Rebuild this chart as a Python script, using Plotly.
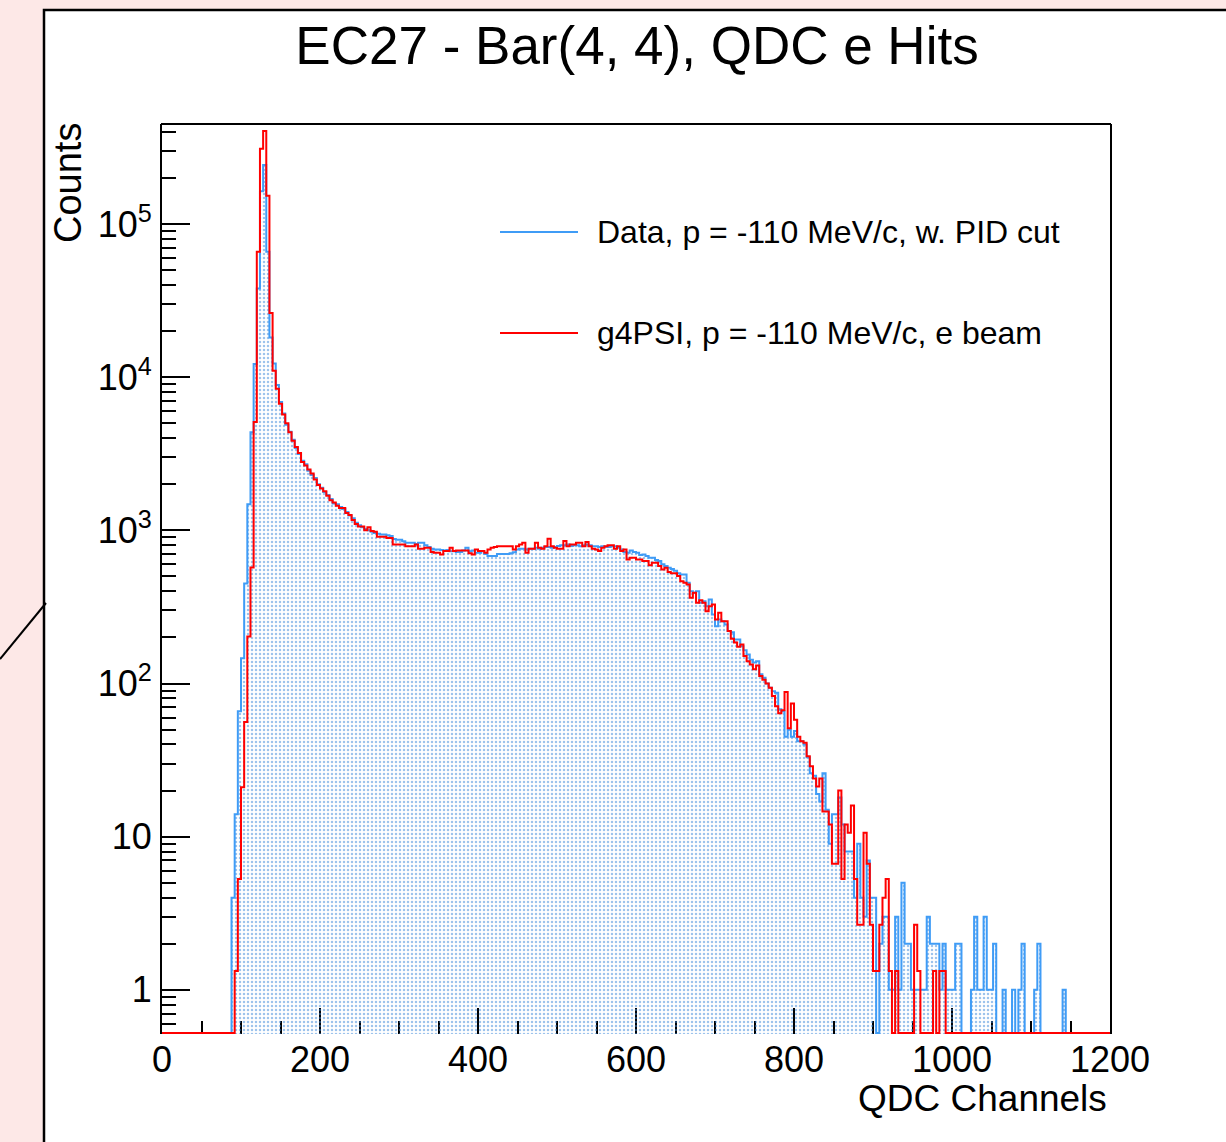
import numpy as np
import plotly.graph_objects as go

# ---------------- data (4-channel bins, QDC channels) ----------------
BIN_WIDTH = 4
N_BINS = 300

data_first_ch = 88
data_counts = [
    4, 14, 66, 146, 450, 1480, 4370, 12200, 38000, 164000, 243000, 66000, 18200,
    12300, 8900, 6900, 5800, 4900, 4400, 3900, 3450, 3150, 2850, 2700, 2450, 2300,
    2200, 2000, 1900, 1780, 1700, 1600, 1500, 1480, 1420, 1380, 1320, 1250, 1200,
    1120, 1080, 1050, 1020, 1000, 980, 960, 950, 940, 940, 930, 920, 880, 870,
    870, 850, 830, 830, 830, 815, 830, 830, 800, 780, 760, 750, 750, 745, 740, 745,
    730, 730, 722, 722, 740, 770, 730, 740, 715, 715, 730, 700, 680, 680, 680, 700,
    700, 700, 700, 710, 720, 751, 760, 760, 751, 760, 760, 770, 760, 770, 780, 780,
    770, 780, 790, 800, 800, 809, 790, 800, 800, 789, 800, 809, 800, 789, 789, 780,
    789, 780, 780, 789, 789, 770, 751, 722, 715, 740, 722, 715, 690, 697, 680, 663,
    663, 640, 630, 600, 585, 570, 560, 545, 524,
    516, 516, 455, 401, 392, 401, 337, 345, 320, 354, 282, 237, 262, 255, 243, 220,
    216, 194, 194, 175, 165, 155, 143, 137, 140, 115, 109, 100, 94, 89, 87, 68, 66,
    45, 50, 45, 49, 42, 42, 40, 33, 26, 25, 19, 17, 26, 15, 9, 14, 14, 18, 12, 8, 8,
    8, 4, 9, 4, 3, 7, 4, 4, 0, 2, 3, 3, 1, 1, 3, 1, 5, 2, 2, 1, 1, 1, 1, 1, 3, 2, 2,
    2, 1, 2, 1, 1, 1, 2, 2, 0, 0, 0, 1, 3, 1, 1, 3, 1, 1, 2, 0, 0, 1, 0, 0, 1, 0, 1,
    2, 0, 0, 0, 1, 2, 0, 0, 0, 0, 0, 0, 0, 1,
]

mc_first_ch = 92
mc_counts = [
    1.33, 5.3, 21, 56, 203, 573, 5100, 66000, 310000, 405000, 153000, 26300,
    11000, 8400, 6700, 5700, 5000, 4370, 3840, 3500, 3200, 2800, 2650, 2500, 2350,
    2150, 1980, 1880, 1800, 1680, 1570, 1520, 1450, 1400, 1400, 1300, 1260, 1170,
    1100, 1060, 1060, 1000, 1050, 990, 980, 910, 910, 910, 890, 890, 810, 810,
    809, 809, 789, 789, 789, 809, 759, 759, 770, 770, 722, 715, 715, 697, 732, 732,
    770, 732, 740, 740, 740, 740, 708, 697, 751, 732, 732, 715, 751, 770, 779, 789,
    789, 789, 789, 789, 751, 789, 809, 830, 715, 759, 759, 830, 770, 759, 789, 883,
    789, 770, 759, 759, 851, 789, 809, 809, 830, 830, 789, 840, 789, 760, 751, 732,
    770, 789, 800, 800, 759, 789, 732, 751, 646, 663, 663, 646, 646, 630, 630, 591,
    615, 615, 585, 556, 570, 534, 524, 524, 503,
    466, 455, 443, 363, 392, 337, 350, 337, 297, 320, 328, 262, 290, 255, 255, 220,
    196, 185, 174, 180, 151, 140, 133, 124, 131, 112, 106, 100, 94, 83, 71, 64, 67,
    88, 51, 74, 58, 45, 42, 41, 33.5, 28.8, 24, 21.3, 24, 14.6, 14.6, 12, 6.65, 6.65,
    20, 5.3, 12, 10.6, 16, 5.3, 2.66, 2.66, 10.6, 6.65, 2.66, 1.33, 1.33, 2.66, 4,
    5.3, 1.33, 0, 1.33, 0, 0, 0, 0, 0, 2.66, 1.33, 0, 0, 0, 0, 1.33, 0, 1.33, 1.33,
]

data_label = "Data, p = -110 MeV/c, w. PID cut"
mc_label = "g4PSI, p = -110 MeV/c, e beam"
title_text = "EC27 - Bar(4, 4), QDC e Hits"
x_title = "QDC Channels"
y_title = "Counts"

x_major = [0, 200, 400, 600, 800, 1000, 1200]
y_major = [1, 10, 100, 1e3, 1e4, 1e5]
y_major_text = ["1", "10", "10<sup>2</sup>", "10<sup>3</sup>", "10<sup>4</sup>", "10<sup>5</sup>"]

# ---------------- styling ----------------
BLUE = "#3f9cf6"
RED = "#ff0000"
FONT = "Liberation Sans, Arial, Helvetica, sans-serif"
W, H = 1226, 1142
L, R, T, B = 162, 116, 124, 108
Y_LO, Y_HI = 0.515, 4.5e5
PX_PER_DECADE = (H - T - B) / (np.log10(Y_HI) - np.log10(Y_LO))
# empty bins are drawn along the lower frame edge (as ROOT does)
Y_FLOOR = 10 ** (np.log10(Y_LO) + 1.0 / PX_PER_DECADE)


def full_hist(first_ch, counts):
    arr = np.zeros(N_BINS)
    i0 = first_ch // BIN_WIDTH
    arr[i0:i0 + len(counts)] = counts
    return arr


edges = np.arange(N_BINS + 1) * BIN_WIDTH
data_h = full_hist(data_first_ch, data_counts)
mc_h = full_hist(mc_first_ch, mc_counts)


def step_y(h):
    y = np.where(h > 0, h, Y_FLOOR)
    return np.append(y, y[-1])


fig = go.Figure()
fig.add_trace(go.Scatter(
    x=edges, y=step_y(data_h), mode="lines", line_shape="hv",
    line=dict(color=BLUE, width=2), fill="tozeroy",
    fillcolor="rgba(0,0,0,0)",
    fillpattern=dict(shape=".", fgcolor="#3a86d8", bgcolor="rgba(255,255,255,0)",
                     size=4, solidity=0.3),
    name=data_label, showlegend=False, hoverinfo="skip"))
fig.add_trace(go.Scatter(
    x=edges, y=step_y(mc_h), mode="lines", line_shape="hv",
    line=dict(color=RED, width=2),
    name=mc_label, showlegend=False, hoverinfo="skip"))

px2x = lambda p: (p - L) / (W - L - R)
py2y = lambda p: (H - B - p) / (H - T - B)

shapes = [
    # ROOT canvas pad (white box with black frame)
    dict(type="rect", xref="paper", yref="paper", x0=px2x(44), x1=px2x(1240),
         y0=py2y(1160), y1=py2y(10), fillcolor="white",
         line=dict(color="black", width=2.5), layer="below"),
    dict(type="line", xref="paper", yref="paper", x0=px2x(0), y0=py2y(659),
         x1=px2x(46), y1=py2y(603), line=dict(color="black", width=2)),
    # top frame line of the plot area
    dict(type="line", xref="paper", yref="paper", x0=px2x(161), x1=px2x(1111),
         y0=1, y1=1, line=dict(color="black", width=2)),
    # legend samples
    dict(type="line", xref="paper", yref="paper", x0=px2x(500), x1=px2x(578),
         y0=py2y(232), y1=py2y(232), line=dict(color=BLUE, width=2)),
    dict(type="line", xref="paper", yref="paper", x0=px2x(500), x1=px2x(578),
         y0=py2y(333), y1=py2y(333), line=dict(color=RED, width=2)),
]

annotations = [
    dict(text=data_label, xref="paper", yref="paper", x=px2x(595), y=py2y(232),
         xanchor="left", yanchor="middle", showarrow=False,
         font=dict(size=32, color="black", family=FONT)),
    dict(text=mc_label, xref="paper", yref="paper", x=px2x(595), y=py2y(333),
         xanchor="left", yanchor="middle", showarrow=False,
         font=dict(size=32, color="black", family=FONT)),
    dict(text=y_title, xref="paper", yref="paper", x=px2x(68), y=py2y(121),
         xanchor="center", yanchor="top", textangle=-90, showarrow=False,
         font=dict(size=38, color="black", family=FONT)),
    dict(text=x_title, xref="paper", yref="paper", x=px2x(1109), y=py2y(1098),
         xanchor="right", yanchor="middle", showarrow=False,
         font=dict(size=37, color="black", family=FONT)),
]

y_minor = [k * 10.0 ** n for n in range(-1, 6) for k in range(2, 10)
           if Y_LO <= k * 10.0 ** n <= Y_HI]
x_minor = [v for v in range(0, 1201, 50) if v % 200 != 0]

fig.update_layout(
    width=W, height=H,
    margin=dict(l=L, r=R, t=T, b=B, pad=0),
    paper_bgcolor="#fde8e7", plot_bgcolor="white",
    font=dict(family=FONT, color="black", size=36),
    title=dict(text=title_text, x=637 / W, xref="container", xanchor="center",
               y=1 - 45 / H, yref="container", yanchor="middle",
               font=dict(size=53, family=FONT, color="black")),
    shapes=shapes, annotations=annotations, showlegend=False,
)
fig.update_xaxes(
    range=[0, 1200], tickmode="array", tickvals=x_major,
    ticks="inside", ticklen=26, tickwidth=1.5, tickcolor="black",
    minor=dict(tickmode="array", tickvals=x_minor, ticks="inside", ticklen=13,
               tickwidth=1.5, tickcolor="black"),
    showline=False, mirror=False,
    showgrid=False, zeroline=False, layer="below traces",
    tickfont=dict(size=36, family=FONT), ticklabelstandoff=1,
)
fig.update_yaxes(
    type="log", range=[np.log10(Y_LO), np.log10(Y_HI)],
    tickmode="array", tickvals=y_major, ticktext=y_major_text,
    ticks="inside", ticklen=28, tickwidth=1.5, tickcolor="black",
    minor=dict(tickmode="array", tickvals=y_minor, ticks="inside", ticklen=14,
               tickwidth=1.5, tickcolor="black"),
    showline=True, linecolor="black", linewidth=2, mirror=True,
    showgrid=False, zeroline=False,
    tickfont=dict(size=36, family=FONT), ticklabelstandoff=1,
)

fig.write_html("out.html")
